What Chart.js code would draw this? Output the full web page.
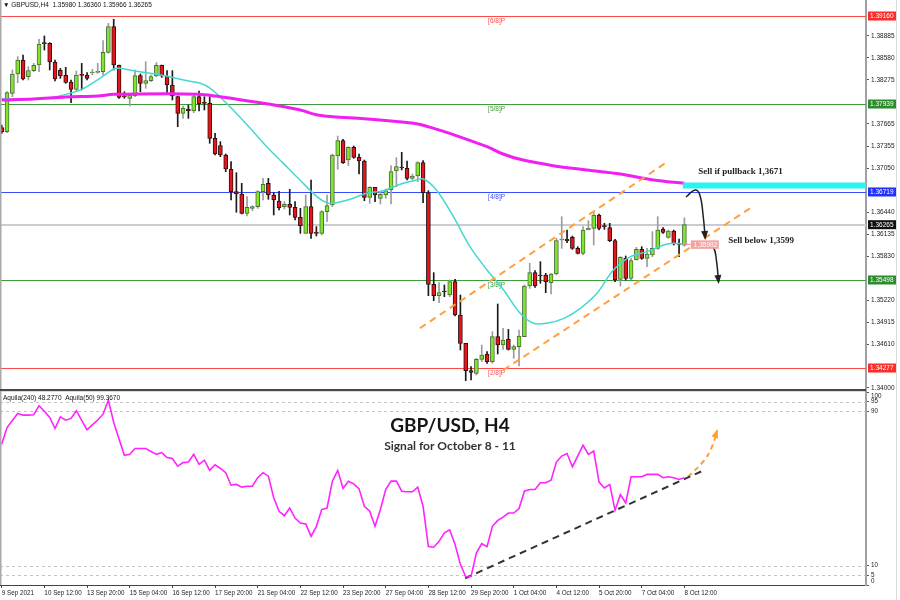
<!DOCTYPE html>
<html>
<head>
<meta charset="utf-8">
<script src="https://cdn.jsdelivr.net/npm/chart.js@4.4.0/dist/chart.umd.min.js"></script>
<style>
  html, body { margin: 0; padding: 0; background: #fff; width: 900px; height: 600px; overflow: hidden; }
  #wrap { position: relative; width: 900px; height: 600px; }
  #main { position: absolute; left: 0; top: 0; }
  #ind { position: absolute; left: 0; top: 388px; }
</style>
</head>
<body>
<div id="wrap">
  <canvas id="main" width="900" height="392"></canvas>
  <canvas id="ind" width="900" height="212"></canvas>
</div>
<script>
// GBPUSD H4 candles (one per 4 hours, 9 Sep -> 8 Oct 12:00)
const opens = [1.37611,1.37556,1.38087,1.38355,1.38550,1.38318,1.38402,1.38480,1.38781,1.38781,
  1.38522,1.38406,1.38337,1.38245,1.38143,1.38342,1.38342,1.38369,1.38379,1.38388,
  1.38656,1.39012,1.38476,1.38041,1.38018,1.38055,1.38332,1.38226,1.38263,1.38328,
  1.38476,1.38328,1.38203,1.38041,1.37810,1.37870,1.37842,1.38041,1.37958,1.37949,
  1.37463,1.37361,1.37232,1.37033,1.36723,1.36691,1.36423,1.36492,1.36515,1.36723,
  1.36839,1.36677,1.36594,1.36515,1.36547,1.36506,1.36367,1.36145,1.36515,1.36159,
  1.36145,1.36446,1.36538,1.37218,1.37431,1.37162,1.37338,1.37199,1.37149,1.36645,
  1.36783,1.36631,1.36677,1.36746,1.37010,1.37056,1.37047,1.36908,1.36941,1.37125,
  1.36709,1.35438,1.35281,1.35336,1.35290,1.35475,1.35012,1.34619,1.34240,1.34203,
  1.34397,1.34471,1.34365,1.34712,1.34596,1.34675,1.34536,1.34573,1.34712,1.35415,
  1.35600,1.35567,1.35567,1.35461,1.35581,1.36053,1.36062,1.36090,1.35937,1.35868,
  1.36191,1.36215,1.36400,1.36252,1.36224,1.36043,1.35507,1.35798,1.35521,1.35775,
  1.35923,1.35798,1.35845,1.35937,1.36201,1.36090,1.36178,1.35997,1.35980];
const highs = [1.37648,1.38110,1.38411,1.38596,1.38619,1.38457,1.38503,1.38836,1.38883,1.38790,
  1.38550,1.38434,1.38448,1.38272,1.38397,1.38503,1.38374,1.38420,1.38503,1.38818,
  1.39058,1.39114,1.38480,1.38110,1.38087,1.38411,1.38355,1.38527,1.38342,1.38513,
  1.38480,1.38402,1.38402,1.38050,1.37912,1.37925,1.38064,1.38120,1.38041,1.38041,
  1.37532,1.37417,1.37246,1.37139,1.36987,1.36839,1.36654,1.36529,1.36737,1.36908,
  1.36908,1.36709,1.36728,1.36585,1.36755,1.36585,1.36492,1.36677,1.36885,1.36238,
  1.36460,1.36677,1.37246,1.37495,1.37449,1.37347,1.37357,1.37246,1.37162,1.36793,
  1.36783,1.36723,1.36760,1.37084,1.37195,1.37269,1.37149,1.36968,1.37139,1.37153,
  1.36737,1.35600,1.35461,1.35429,1.35498,1.35507,1.35290,1.34619,1.34296,1.34411,
  1.34596,1.34504,1.34781,1.35165,1.34827,1.34813,1.34596,1.34804,1.35429,1.35729,
  1.35627,1.35752,1.35590,1.35590,1.36076,1.36376,1.36191,1.36108,1.35960,1.36238,
  1.36321,1.36446,1.36414,1.36284,1.36284,1.36062,1.35822,1.35831,1.35798,1.35951,
  1.35960,1.35937,1.36168,1.36376,1.36224,1.36191,1.36191,1.36067,1.36360];
const lows = [1.37532,1.37542,1.38041,1.38235,1.38272,1.38272,1.38388,1.38388,1.38688,1.38411,
  1.38258,1.38295,1.38226,1.37958,1.38120,1.38134,1.38272,1.38342,1.38365,1.38342,
  1.38642,1.38411,1.38018,1.38018,1.37912,1.38041,1.38110,1.38157,1.38249,1.38318,
  1.38309,1.38097,1.37995,1.37625,1.37740,1.37740,1.37819,1.37842,1.37856,1.37394,
  1.37232,1.37209,1.37001,1.36608,1.36437,1.36414,1.36386,1.36460,1.36492,1.36608,
  1.36617,1.36400,1.36469,1.36483,1.36400,1.36330,1.36145,1.36145,1.36076,1.36108,
  1.36122,1.36307,1.36515,1.37033,1.37116,1.37084,1.37186,1.36968,1.36598,1.36561,
  1.36584,1.36552,1.36631,1.36552,1.36793,1.37024,1.36885,1.36885,1.36862,1.36571,
  1.35281,1.35211,1.35183,1.35267,1.35267,1.35000,1.34527,1.34101,1.34111,1.34180,
  1.34365,1.34342,1.34342,1.34471,1.34536,1.34527,1.34411,1.34305,1.34712,1.35382,
  1.35396,1.35452,1.35322,1.35304,1.35567,1.35937,1.36016,1.35923,1.35859,1.35845,
  1.36191,1.35983,1.36191,1.36201,1.36030,1.35475,1.35415,1.35498,1.35498,1.35775,
  1.35785,1.35683,1.35822,1.35923,1.36145,1.36076,1.35983,1.35822,1.35966];
const closes = [1.37556,1.38097,1.38355,1.38550,1.38286,1.38402,1.38476,1.38772,1.38776,1.38522,
  1.38286,1.38328,1.38240,1.38143,1.38342,1.38337,1.38295,1.38383,1.38379,1.38656,
  1.39012,1.38480,1.38032,1.38038,1.38064,1.38332,1.38226,1.38263,1.38318,1.38476,
  1.38328,1.38203,1.38050,1.37810,1.37879,1.37842,1.38041,1.37939,1.37949,1.37463,
  1.37246,1.37232,1.37038,1.36723,1.36691,1.36423,1.36506,1.36515,1.36723,1.36825,
  1.36677,1.36608,1.36501,1.36547,1.36506,1.36367,1.36252,1.36515,1.36145,1.36145,
  1.36446,1.36529,1.37232,1.37431,1.37125,1.37338,1.37199,1.37149,1.36645,1.36783,
  1.36677,1.36686,1.36737,1.37001,1.37070,1.37052,1.36908,1.36941,1.37125,1.36709,
  1.35438,1.35281,1.35322,1.35331,1.35475,1.35012,1.34619,1.34240,1.34217,1.34397,
  1.34457,1.34365,1.34712,1.34596,1.34665,1.34536,1.34573,1.34721,1.35415,1.35600,
  1.35415,1.35553,1.35475,1.35581,1.36043,1.36062,1.36043,1.35937,1.35868,1.36191,
  1.36215,1.36400,1.36215,1.36238,1.36043,1.35498,1.35812,1.35521,1.35766,1.35923,
  1.35798,1.35859,1.35937,1.36191,1.36159,1.36178,1.35997,1.35992,1.36265];

// x axis labels, one every 8 candles
const dateLabels = ['9 Sep 2021','10 Sep 12:00','13 Sep 20:00','15 Sep 04:00','16 Sep 12:00',
  '17 Sep 20:00','21 Sep 04:00','22 Sep 12:00','23 Sep 20:00','27 Sep 04:00','28 Sep 12:00',
  '29 Sep 20:00','1 Oct 04:00','4 Oct 12:00','5 Oct 20:00','7 Oct 04:00','8 Oct 12:00'];
const labelStep = 8;

// price scale ticks
const priceTicks = [1.38885,1.38580,1.38275,1.37665,1.37355,1.37050,1.36440,1.36135,1.35830,1.35220,1.34915,1.34610,1.34000];

// Murrey levels
const levels = [1.39160, 1.37939, 1.36719, 1.35498, 1.34277];
const levelNames = ['[6/8]P', '[5/8]P', '[4/8]P', '[3/8]P', '[2/8]P'];

// moving averages (candle index, price)
const slowX = [0,6,12,18,21,31,37,40,43,50,56,59,62,68,75,78,81,84,91,94,97.2,103.4,109.7,116,122.2,128];
const slowY = [1.37995,1.38009,1.38036,1.38050,1.38073,1.38083,1.38073,1.38050,1.38018,1.37939,
  1.37856,1.37791,1.37764,1.37736,1.37690,1.37662,1.37602,1.37532,1.37347,1.37246,
  1.37172,1.37084,1.37024,1.36968,1.36885,1.36839];
const fastX = [0,6,9,12,15,18.4,21,22,24.7,27.8,30.9,34.1,37.2,39.1,40.9,43.4,46.6,49.7,52.8,55.9,
  59.1,60.9,62.2,65.3,68.4,71.6,74.7,77.8,79.1,81.5,84.7,87.8,91,94.1,97.2,99.7,102.2,105.4,
  108.5,111.6,114.7,117.9,121,124.1,126,128];
const fastY = [1.38009,1.38009,1.38027,1.38073,1.38143,1.38295,1.38425,1.38434,1.38402,1.38365,
  1.38328,1.38272,1.38226,1.38157,1.38041,1.37856,1.37602,1.37347,1.37116,1.36885,
  1.36654,1.36571,1.36561,1.36617,1.36700,1.36737,1.36825,1.36885,1.36899,1.36746,
  1.36376,1.35960,1.35637,1.35359,1.35035,1.34897,1.34897,1.34966,1.35105,1.35313,
  1.35637,1.35822,1.35891,1.35983,1.36007,1.35997];

// drawn objects on the price chart (candle index, price)
const chanUpX = [78.4, 124.4], chanUpY = [1.34828, 1.37117];
const chanLoX = [94.05, 140.3], chanLoY = [1.34249, 1.36492];
const zoneX = [127.7, 162.05], zoneY = [1.36809, 1.36809];
const arrow1X = [128.3, 130, 130.9, 131.5, 131.9], arrow1Y = [1.36649, 1.36746, 1.36677, 1.36400, 1.36081];
const arrow2X = [132.2, 133.4, 134, 134.4], arrow2Y = [1.35983, 1.35956, 1.35775, 1.35470];
const signalPrice = 1.35992;

// Aquila oscillator, one value per candle
const aquila = [72.9,81.6,85.2,88.9,88.0,88.0,88.2,92.9,90.0,86.8,
  81.1,87.1,85.4,86.3,90.3,85.3,80.4,83.0,85.5,88.5,
  95.8,84.2,75.6,67.2,67.7,70.7,70.7,70.7,69.2,67.7,
  68.6,66.0,65.5,61.6,63.4,63.7,67.7,62.5,64.7,59.4,
  62.3,60.4,58.2,51.7,52.1,50.7,51.2,51.2,55.6,58.2,
  56.4,45.2,38.2,35.9,39.9,34.7,32.1,31.6,25.2,30.4,
  39.1,39.9,53.8,59.4,50.0,53.8,52.4,49.8,40.8,38.2,
  30.4,39.1,49.5,53.8,53.8,48.6,48.3,48.3,50.7,40.8,
  19.9,19.6,22.6,27.0,28.6,21.0,10.7,4.3,4.5,16.5,
  21.4,19.9,30.4,33.5,35.2,37.3,37.3,39.6,48.6,49.5,
  49.5,53.0,53.0,54.3,63.7,66.8,68.1,61.3,66.8,72.4,
  67.7,69.4,53.3,50.3,52.1,38.7,46.9,42.5,56.1,56.1,
  56.1,57.3,57.3,57.3,55.6,56.1,55.6,54.7,55.6];
const indTicks = [0, 5, 10, 90, 95, 100];
const indGrid = [5, 10, 90, 95];
const trendX = [86.9, 131.3], trendY = [3.5, 59];
const upX = [128.7, 131.6, 133.1, 134.1], upY = [56.1, 64.2, 71.2, 79.8];

// ---- helpers ----
const FONT = '"Liberation Sans", Arial, sans-serif';
const X_MIN = -0.32, X_MAX = 162.05;
const pts = (xs, ys) => xs.map((v, k) => ({ x: v, y: ys[k] }));
const bull = closes.map((c, k) => c >= opens[k]);
const levelColors = ['#ff4a4a', '#3c9c3c', '#3a4cff', '#3c9c3c', '#ff4a4a'];
const tagColors = ['#ff2a2a', '#2c8c2c', '#2030ff', '#2c8c2c', '#ff2a2a'];

function arrowHead(ctx, meta, color, size) {
  const d = meta.data;
  const p = d[d.length - 1], q = d[d.length - 2];
  const a = Math.atan2(p.y - q.y, p.x - q.x);
  const c = Math.cos(a), s = Math.sin(a);
  ctx.fillStyle = color;
  ctx.beginPath();
  ctx.moveTo(p.x + 2 * c, p.y + 2 * s);
  ctx.lineTo(p.x - size * c + size * 0.5 * s, p.y - size * s - size * 0.5 * c);
  ctx.lineTo(p.x - size * c - size * 0.5 * s, p.y - size * s + size * 0.5 * c);
  ctx.closePath();
  ctx.fill();
}

function priceTag(ctx, a, py, value, bg) {
  ctx.fillStyle = bg;
  ctx.fillRect(a.right + 2, py - 4.5, 28, 9);
  ctx.fillStyle = '#fff';
  ctx.font = '6.5px ' + FONT;
  ctx.textAlign = 'left';
  ctx.textBaseline = 'middle';
  ctx.fillText(value.toFixed(5), a.right + 4, py + 0.5);
}

// ---- price chart ----
const mainDecor = {
  id: 'mainDecor',
  beforeDatasetsDraw(chart) {
    const { ctx, chartArea: a, scales: { x, y } } = chart;
    ctx.save();
    levels.forEach((lv, k) => {
      const py = Math.round(y.getPixelForValue(lv)) + 0.5;
      ctx.strokeStyle = levelColors[k];
      ctx.lineWidth = 1;
      ctx.beginPath(); ctx.moveTo(a.left, py); ctx.lineTo(a.right, py); ctx.stroke();
      ctx.fillStyle = levelColors[k];
      ctx.font = '6.5px ' + FONT;
      ctx.textBaseline = 'top';
      ctx.fillText(levelNames[k], x.getPixelForValue(91.2), py + 1.5);
    });
    const cp = Math.round(y.getPixelForValue(closes[closes.length - 1]));
    ctx.strokeStyle = '#c8cdd2';
    ctx.lineWidth = 2;
    ctx.beginPath(); ctx.moveTo(a.left, cp); ctx.lineTo(a.right, cp); ctx.stroke();
    ctx.restore();
  },
  afterDraw(chart) {
    const { ctx, chartArea: a, scales: { x, y } } = chart;
    ctx.save();
    // left frame
    ctx.fillStyle = '#a9a9a9';
    ctx.fillRect(0, 0, 1.5, a.bottom);
    ctx.fillStyle = '#dcdcdc';
    ctx.fillRect(896, 0, 1, 392);
    // header
    ctx.fillStyle = '#111';
    ctx.font = '6.5px ' + FONT;
    ctx.textBaseline = 'middle';
    ctx.fillText('\u25BC GBPUSD,H4  1.35980 1.36360 1.35966 1.36265', 3, 5.5);
    // tags on the price axis
    levels.forEach((lv, k) => priceTag(ctx, a, y.getPixelForValue(lv), lv, tagColors[k]));
    priceTag(ctx, a, y.getPixelForValue(closes[closes.length - 1]), closes[closes.length - 1], '#111');
    // arrowheads
    arrowHead(ctx, chart.getDatasetMeta(7), '#222', 7);
    arrowHead(ctx, chart.getDatasetMeta(8), '#222', 7);
    // signal price label
    const sy = y.getPixelForValue(signalPrice);
    const sx = x.getPixelForValue(129.2);
    ctx.strokeStyle = '#f28c8c';
    ctx.lineWidth = 1;
    ctx.beginPath(); ctx.moveTo(x.getPixelForValue(127.8), sy); ctx.lineTo(sx, sy); ctx.stroke();
    ctx.fillStyle = '#f4a3a3';
    ctx.fillRect(sx, sy - 4, 28, 8.5);
    ctx.fillStyle = '#fff';
    ctx.font = '6.5px ' + FONT;
    ctx.fillText('1,35992', sx + 3, sy + 0.5);
    // notes
    ctx.fillStyle = '#222';
    ctx.font = 'bold 9px "Liberation Serif", "DejaVu Serif", serif';
    ctx.fillText('Sell if pullback 1,3671', x.getPixelForValue(130.6), y.getPixelForValue(1.37003));
    ctx.fillText('Sell below 1,3599', x.getPixelForValue(136.2), y.getPixelForValue(1.36039));
    ctx.restore();
  }
};

const lineDs = (data, color, width, extra) => Object.assign({
  type: 'line', data, borderColor: color, borderWidth: width,
  pointRadius: 0, fill: false, tension: 0
}, extra || {});

new Chart(document.getElementById('main'), {
  type: 'bar',
  data: {
    datasets: [
      {
        label: 'body',
        data: opens.map((o, k) => ({ x: k, y: [Math.min(o, closes[k]), Math.max(o, closes[k])] })),
        backgroundColor: bull.map(b => b ? '#7fe62b' : '#e8141c'),
        borderColor: bull.map(b => b ? '#4b6b3a' : '#2a1010'),
        borderWidth: 1, borderSkipped: false, barThickness: 4, minBarLength: 1,
        grouped: false, order: 2
      },
      {
        label: 'wick',
        data: highs.map((h, k) => ({ x: k, y: [lows[k], h] })),
        backgroundColor: bull.map(b => b ? '#9c9c9c' : '#1a1a1a'),
        borderWidth: 0, barThickness: 1, grouped: false, order: 3
      },
      lineDs(pts(slowX, slowY), '#f020f0', 3, { tension: 0.35, order: 1 }),
      lineDs(pts(fastX, fastY), '#45d8d0', 1.5, { tension: 0.35, order: 1 }),
      lineDs(pts(chanUpX, chanUpY), '#ffa040', 2, { borderDash: [7, 5], order: 0 }),
      lineDs(pts(chanLoX, chanLoY), '#ffa040', 2, { borderDash: [7, 5], order: 0 }),
      lineDs(pts(zoneX, zoneY), '#28f4f4', 6, { order: 0, borderCapStyle: 'butt' }),
      lineDs(pts(arrow1X, arrow1Y), '#222', 1.5, { tension: 0.45, order: 0 }),
      lineDs(pts(arrow2X, arrow2Y), '#222', 1.5, { tension: 0.45, order: 0 })
    ]
  },
  options: {
    responsive: false, animation: false, events: [],
    layout: { padding: { left: 0, right: 0, top: 0, bottom: 2 } },
    plugins: { legend: { display: false }, tooltip: { enabled: false } },
    scales: {
      x: { type: 'linear', min: X_MIN, max: X_MAX, offset: false, display: false },
      y: {
        position: 'right', min: 1.33972, max: 1.39382, beginAtZero: false,
        afterBuildTicks: s => { s.ticks = priceTicks.map(v => ({ value: v })); },
        afterFit: s => { s.width = 34; s.paddingTop = 0; s.paddingBottom = 0; },
        ticks: {
          autoSkip: false, padding: 2, color: '#222',
          font: { family: 'Liberation Sans', size: 6.5 },
          callback: v => v.toFixed(5)
        },
        grid: { drawOnChartArea: false, tickLength: 3, color: '#555' },
        border: { color: '#a0a0a0', width: 2 }
      }
    }
  },
  plugins: [mainDecor]
});

// ---- oscillator ----
const indDecor = {
  id: 'indDecor',
  beforeDatasetsDraw(chart) {
    const { ctx, chartArea: a, scales: { y } } = chart;
    ctx.save();
    ctx.strokeStyle = '#c4c4c4';
    ctx.lineWidth = 1;
    ctx.setLineDash([3, 3]);
    indGrid.forEach(v => {
      const py = Math.round(y.getPixelForValue(v)) + 0.5;
      ctx.beginPath(); ctx.moveTo(a.left, py); ctx.lineTo(a.right, py); ctx.stroke();
    });
    ctx.restore();
  },
  afterDraw(chart) {
    const { ctx, chartArea: a, scales: { y } } = chart;
    ctx.save();
    ctx.fillStyle = '#4a4a4a';
    ctx.fillRect(0, 1, a.right, 2.2);
    ctx.fillStyle = '#a9a9a9';
    ctx.fillRect(0, 3, 1.5, a.bottom - 3);
    ctx.fillStyle = '#dcdcdc';
    ctx.fillRect(896, 0, 1, 212);
    // axis labels, kept inside the panel like the terminal does
    ctx.fillStyle = '#222';
    ctx.font = '6.3px ' + FONT;
    ctx.textBaseline = 'middle';
    indTicks.forEach(v => {
      const py = Math.min(Math.max(y.getPixelForValue(v), a.top + 4), a.bottom - 3.5);
      ctx.fillText(String(v), a.right + 5, py);
    });
    ctx.fillStyle = '#111';
    ctx.font = '6.5px ' + FONT;
    ctx.fillText('Aquila(240) 48.2770  Aquila(50) 99.3670', 3, 10);
    ctx.textAlign = 'center';
    ctx.textBaseline = 'alphabetic';
    ctx.fillStyle = '#151515';
    ctx.font = 'bold 19px Lato, "Open Sans", sans-serif';
    ctx.fillText('GBP/USD, H4', 450, 44);
    ctx.font = 'bold 12px Lato, "Open Sans", sans-serif';
    ctx.fillStyle = '#333';
    ctx.fillText('Signal for October 8 - 11', 450, 62);
    arrowHead(ctx, chart.getDatasetMeta(2), '#ffa033', 7);
    ctx.restore();
  }
};

new Chart(document.getElementById('ind'), {
  type: 'line',
  data: {
    datasets: [
      lineDs(aquila.map((v, k) => ({ x: k, y: v })), '#ff22ff', 1.6),
      lineDs(pts(trendX, trendY), '#333', 2, { borderDash: [7, 5] }),
      lineDs(pts(upX, upY), '#ffa033', 2, { borderDash: [5, 4], tension: 0.4 })
    ]
  },
  options: {
    responsive: false, animation: false, events: [],
    layout: { padding: { left: 0, right: 0, top: 4, bottom: 0 } },
    plugins: { legend: { display: false }, tooltip: { enabled: false } },
    scales: {
      x: {
        type: 'linear', min: X_MIN, max: X_MAX, offset: false,
        afterBuildTicks: s => { s.ticks = dateLabels.map((_, k) => ({ value: k * labelStep })); },
        afterFit: s => { s.height = 15; s.paddingLeft = 0; s.paddingRight = 0; },
        ticks: {
          autoSkip: false, maxRotation: 0, align: 'start', padding: 1, color: '#222',
          font: { family: 'Liberation Sans', size: 6.3 },
          callback: (v, i) => dateLabels[i]
        },
        grid: { drawOnChartArea: false, tickLength: 3, color: '#444' },
        border: { color: '#444', width: 1 }
      },
      y: {
        position: 'right', min: 0, max: 100,
        afterBuildTicks: s => { s.ticks = indTicks.map(v => ({ value: v })); },
        afterFit: s => { s.width = 34; s.paddingTop = 0; s.paddingBottom = 0; },
        ticks: { display: false },
        grid: { drawOnChartArea: false, tickLength: 3, color: '#555' },
        border: { color: '#a0a0a0', width: 2 }
      }
    }
  },
  plugins: [indDecor]
});
</script>
</body>
</html>
